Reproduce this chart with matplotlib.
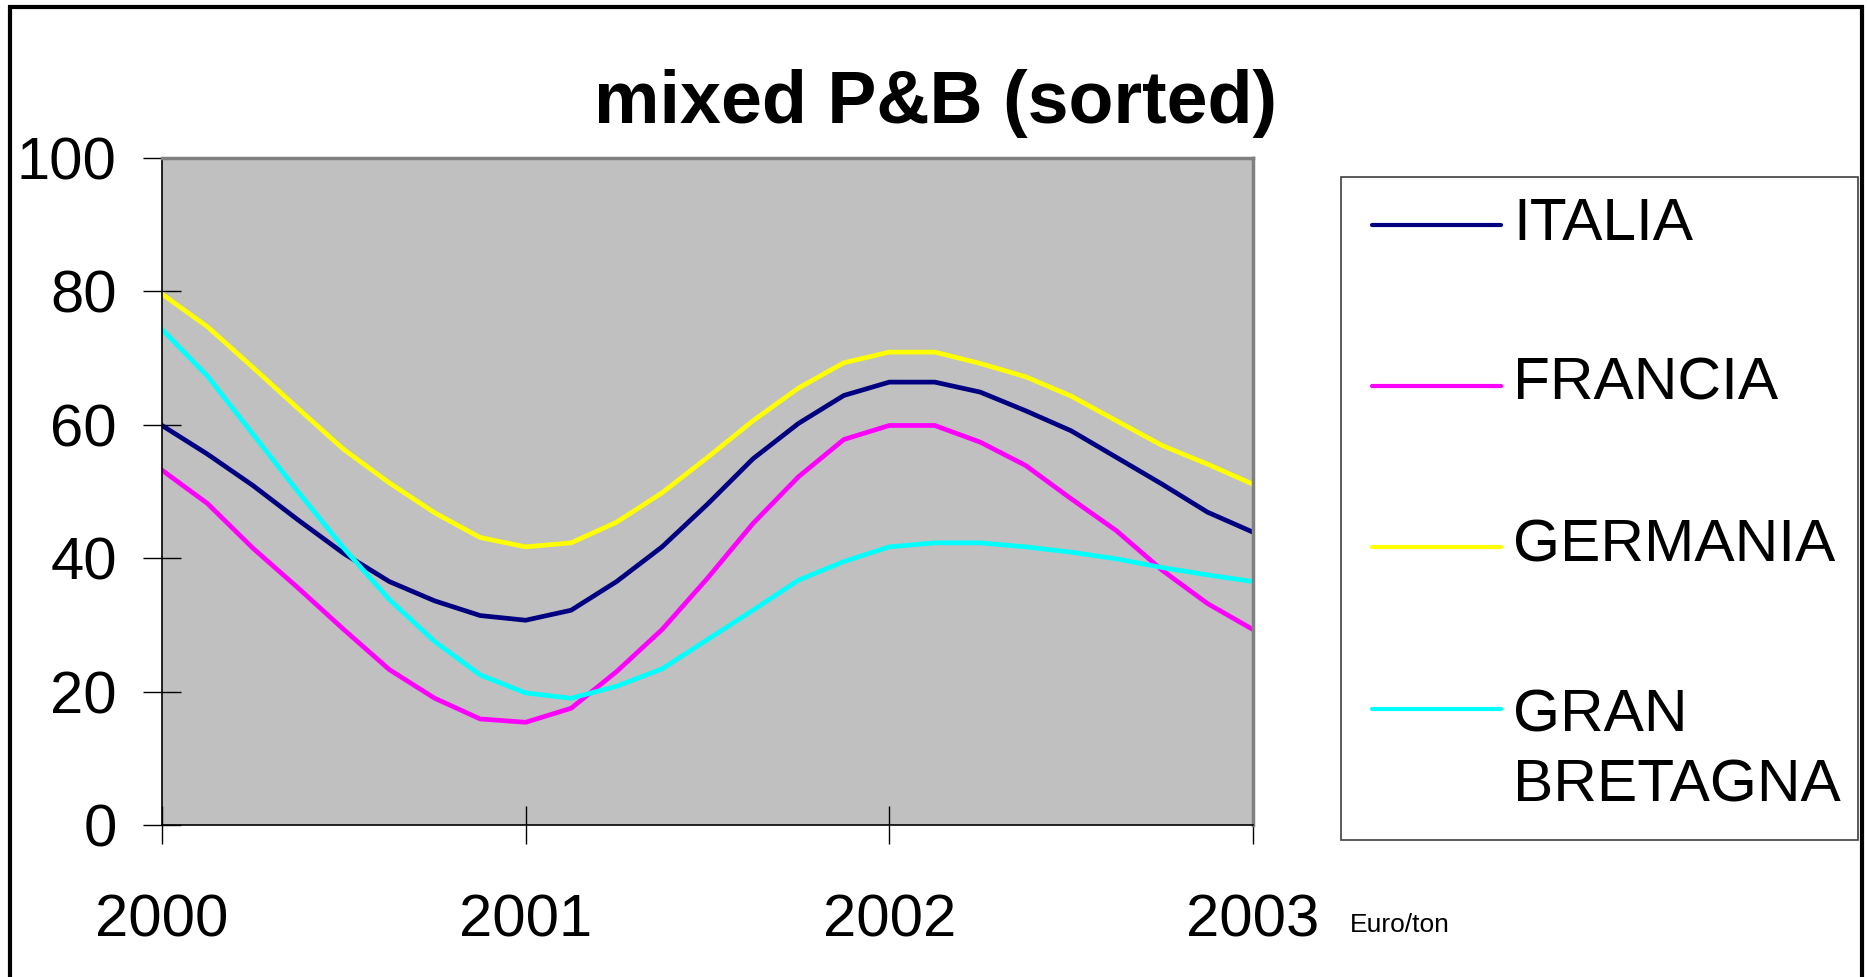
import matplotlib
matplotlib.use("Agg")
import matplotlib.pyplot as plt
from matplotlib.lines import Line2D
from matplotlib.patches import Rectangle
import numpy as np

plt.rcParams['font.family'] = ['Liberation Sans', 'DejaVu Sans']

# data (every 1.5 months)
dates = np.linspace(2000, 2003, 25)
italia = [59.9, 55.6, 50.9, 45.7, 40.7, 36.5, 33.6, 31.4, 30.7, 32.2, 36.5, 41.7, 48.1,
          54.9, 60.2, 64.4, 66.4, 66.4, 64.9, 62.1, 59.1, 55.1, 51.1, 46.9, 43.9]
francia = [53.2, 48.2, 41.5, 35.5, 29.3, 23.3, 19.0, 15.9, 15.4, 17.5, 23.0, 29.3, 37.0,
           45.2, 52.2, 57.8, 59.9, 59.9, 57.4, 53.9, 48.9, 44.1, 38.2, 33.2, 29.3]
germania = [79.6, 74.7, 68.6, 62.4, 56.3, 51.3, 46.8, 43.1, 41.7, 42.3, 45.4, 49.8, 55.1,
            60.6, 65.5, 69.3, 70.9, 70.9, 69.2, 67.2, 64.3, 60.6, 56.9, 54.1, 51.1]
gran_bretagna = [74.3, 67.3, 58.6, 49.9, 41.5, 33.8, 27.5, 22.5, 19.8, 19.0, 20.8, 23.4, 27.8,
                 32.2, 36.7, 39.5, 41.7, 42.3, 42.3, 41.7, 40.9, 39.9, 38.6, 37.5, 36.5]

series = [italia, francia, germania, gran_bretagna]
labels = ['ITALIA', 'FRANCIA', 'GERMANIA', 'GRAN\nBRETAGNA']
colors = ['#000080', '#FF00FF', '#FFFF00', '#00FFFF']
year_ticks = [2000, 2001, 2002, 2003]
y_ticks = [0, 20, 40, 60, 80, 100]

W, H = 1868, 977
fig = plt.figure(figsize=(W / 100, H / 100), dpi=100)

def fx(px):
    return px / W

def fy(py):
    return 1 - py / H

# %%
ax = fig.add_axes([fx(162), fy(825), fx(1253) - fx(162), fy(158) - fy(825)])
ax.set_facecolor('#C0C0C0')

for vals, col in zip(series, colors):
    ax.plot(dates, vals, color=col, lw=3.4, solid_joinstyle='round')

ax.set_xlim(2000, 2003)
ax.set_ylim(0, 100)
ax.set_xticks(year_ticks)
ax.set_xticklabels([str(y) for y in year_ticks])
ax.set_yticks(y_ticks)

ax.tick_params(axis='both', direction='inout', length=27, width=1, color='black', labelsize=43)
ax.tick_params(axis='y', pad=19)
ax.tick_params(axis='x', pad=36)

for side in ['top', 'right']:
    ax.spines[side].set_color('#808080')
    ax.spines[side].set_linewidth(2.5)
for side in ['left', 'bottom']:
    ax.spines[side].set_color('black')
    ax.spines[side].set_linewidth(1.2)

# title and unit
fig.text(fx(936), fy(123), 'mixed P&B (sorted)', fontsize=53, fontweight='bold',
         ha='center', va='baseline')
fig.text(fx(1350), fy(932), 'Euro/ton', fontsize=19, ha='left', va='baseline')

# legend box drawn by hand
fig.add_artist(Rectangle((fx(1341), fy(840)), fx(1858) - fx(1341), fy(177) - fy(840),
                         transform=fig.transFigure, facecolor='white',
                         edgecolor='#404040', lw=1.2))
line_y = [225, 386, 547, 709]
base_y = [240, 400, 561, 802]   # last-line baseline
for ly, by, lab, col in zip(line_y, base_y, labels, colors):
    fig.add_artist(Line2D([fx(1372), fx(1501)], [fy(ly), fy(ly)], color=col, lw=3,
                          solid_capstyle='round', transform=fig.transFigure))
    fig.text(fx(1513), fy(by), lab, fontsize=43.5, ha='left', va='baseline',
             linespacing=1.37)

# outer border (bottom edge falls off the picture)
fig.add_artist(Rectangle((fx(10), -0.05), fx(1862) - fx(10), fy(7) + 0.05,
                         transform=fig.transFigure, fill=False, edgecolor='black', lw=3))

plt.savefig('out.png', dpi=100)
